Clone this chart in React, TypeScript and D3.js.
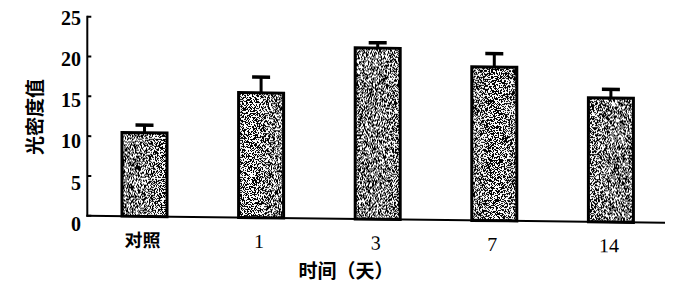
import React from "react";
import * as d3 from "d3";

const categories = ["对照", "1", "3", "7", "14"];
const means = [10.5, 15.7, 21.5, 19.3, 15.6];
const errors = [1.1, 2.1, 0.8, 1.8, 1.2];
const yTicks = [0, 5, 10, 15, 20, 25];
const xTitle = "时间（天）";
const yTitle = "光密度值";

const W = 677;
const H = 297;
const axisX = 87.3;
const baseY = 215.7;

export default function App() {
  const x = d3.scalePoint<string>().domain(categories).range([86.2, 669.2]).padding(0.5);
  const y = d3.scaleLinear().domain([0, 25]).range([baseY, 16.7]);
  const yLabel = d3.scaleLinear().domain([0, 25]).range([224, 17.5]);
  const barW = 45;
  const capW = 18;
  const serif = "'Liberation Serif', 'DejaVu Serif', serif";
  const cjk = "'Noto Sans CJK SC', 'Noto Sans', sans-serif";
  const skew = `translate(${axisX},0) skewY(0.7) translate(${-axisX},0)`;
  const table = "0 0 0 0 0 0 0 0 0 0 1 1 1 1 1 1 1 1 1 1";

  return (
    <>
      <style>{"body{margin:0;background:#fff}"}</style>
      <svg width={W} height={H} viewBox={`0 0 ${W} ${H}`} style={{ display: "block", background: "#fff" }}>
        <defs>
          <filter
            id="stipple"
            filterUnits="userSpaceOnUse"
            x={0}
            y={0}
            width={W}
            height={H}
            colorInterpolationFilters="sRGB"
          >
            <feTurbulence type="fractalNoise" baseFrequency="1.3" numOctaves={1} seed={7} result="noise" />
            <feColorMatrix
              in="noise"
              type="matrix"
              values="1 0 0 0 0  1 0 0 0 0  1 0 0 0 0  0 0 0 0 1"
              result="gray"
            />
            <feComponentTransfer in="gray" result="bw">
              <feFuncR type="discrete" tableValues={table} />
              <feFuncG type="discrete" tableValues={table} />
              <feFuncB type="discrete" tableValues={table} />
            </feComponentTransfer>
            <feComposite in="bw" in2="SourceAlpha" operator="in" />
          </filter>
        </defs>

        <g transform={skew}>
          {categories.map((c, i) => {
            const cx = x(c) as number;
            const top = y(means[i]);
            const capY = y(means[i] + errors[i]);
            return (
              <g key={c}>
                <rect x={cx - barW / 2} y={top} width={barW} height={baseY - top} fill="#000" filter="url(#stipple)" />
                <rect
                  x={cx - barW / 2}
                  y={top}
                  width={barW}
                  height={baseY - top}
                  fill="none"
                  stroke="#000"
                  strokeWidth={3}
                />
                <line x1={cx} x2={cx} y1={top} y2={capY} stroke="#000" strokeWidth={3} />
                <line x1={cx - capW / 2} x2={cx + capW / 2} y1={capY + 1} y2={capY + 1} stroke="#000" strokeWidth={3.5} />
              </g>
            );
          })}

          <line x1={axisX} x2={axisX} y1={y(25) - 1} y2={baseY + 1} stroke="#000" strokeWidth={2} />
          <line x1={axisX - 1} x2={665} y1={baseY} y2={baseY} stroke="#000" strokeWidth={2} />
          {yTicks.map((t) => (
            <line key={t} x1={axisX} x2={axisX + 4} y1={y(t)} y2={y(t)} stroke="#000" strokeWidth={2} />
          ))}

          {categories.map((c) => (
            <text
              key={c}
              x={(x(c) as number) - 2}
              y={246}
              textAnchor="middle"
              fontSize={c === "对照" ? 18 : 20}
              fontWeight={c === "对照" ? "bold" : "normal"}
              fontFamily={c === "对照" ? cjk : serif}
              fill="#000"
            >
              {c}
            </text>
          ))}
        </g>

        {yTicks.map((t) => (
          <text
            key={t}
            x={81}
            y={yLabel(t)}
            dominantBaseline="central"
            textAnchor="end"
            fontSize={20}
            fontWeight="bold"
            fontFamily={serif}
            fill="#000"
          >
            {t}
          </text>
        ))}

        <text x={346} y={278} textAnchor="middle" fontSize={19} fontWeight="bold" fontFamily={cjk} fill="#000">
          {xTitle}
        </text>
        <text
          transform={`translate(33,117) rotate(-90)`}
          textAnchor="middle"
          dominantBaseline="central"
          fontSize={19}
          fontWeight="bold"
          fontFamily={cjk}
          fill="#000"
        >
          {yTitle}
        </text>
      </svg>
    </>
  );
}
